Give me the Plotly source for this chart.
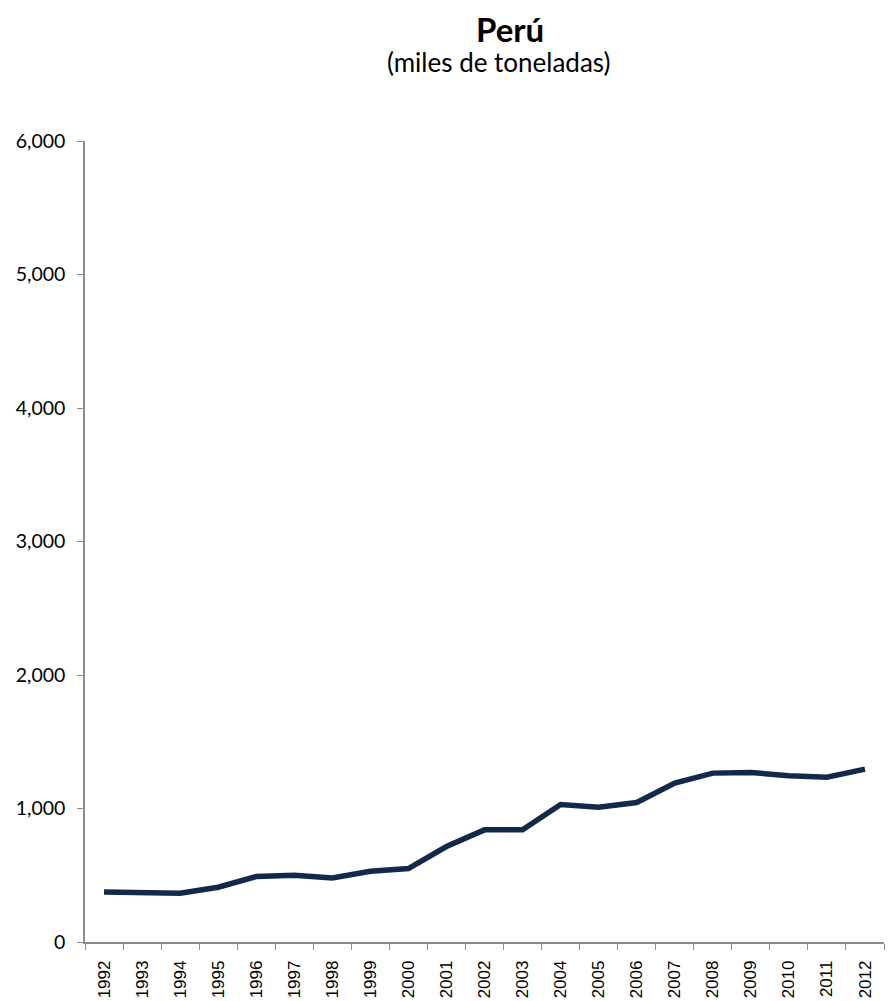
import plotly.graph_objects as go

years = [str(y) for y in range(1992, 2013)]
values = [375, 375, 365, 410, 490, 500, 480, 530, 550, 715, 840,
          840, 1030, 1010, 1045, 1190, 1265, 1270, 1245, 1235, 1295]
y_ticks = [0, 1000, 2000, 3000, 4000, 5000, 6000]
y_ticktext = ["0", "1,000", "2,000", "3,000", "4,000", "5,000", "6,000"]

fig = go.Figure()
fig.add_trace(go.Scatter(
    x=years, y=values, mode="lines",
    line=dict(color="#13294B", width=5.5),
    hoverinfo="x+y", showlegend=False,
))

font_family = "Lato, 'Open Sans', sans-serif"

fig.update_layout(
    width=895, height=1001,
    margin=dict(l=85, r=11, t=141, b=59),
    paper_bgcolor="white", plot_bgcolor="white",
    font=dict(family=font_family, color="black"),
    xaxis=dict(
        type="category", range=[-0.5, 20.5], automargin=False,
        tickson="boundaries", ticks="outside", ticklen=6,
        tickcolor="#8c8c8c", showline=True, linecolor="#8c8c8c", linewidth=1.5,
        showgrid=False, tickangle=-90,
        tickfont=dict(size=17, family="'Liberation Sans', Arial, sans-serif"),
        ticklabelstandoff=10,
    ),
    yaxis=dict(
        range=[0, 6000], tickvals=y_ticks, ticktext=y_ticktext, automargin=False,
        ticks="outside", ticklen=6, tickcolor="#8c8c8c",
        showline=True, linecolor="#8c8c8c", linewidth=1.5,
        showgrid=False, zeroline=False,
        tickfont=dict(size=19.5, family=font_family),
        ticklabelstandoff=8,
    ),
    annotations=[
        dict(text="<b>Perú</b>", x=0.532, y=30, xref="paper", yref="paper",
             showarrow=False, font=dict(size=33, family=font_family)),
        dict(text="(miles de toneladas)", x=0.517, y=62, xref="paper", yref="paper",
             showarrow=False, font=dict(size=26, family=font_family)),
    ],
)

plot_h = 1001 - 141 - 59
for ann, ypx in zip(fig.layout.annotations, [29, 62]):
    ann.y = (942 - ypx) / plot_h
    ann.yanchor = "middle"

fig.write_html("out.html", config={"displayModeBar": False})

# remove default browser body margin so the figure sits at the page origin
with open("out.html", "r", encoding="utf-8") as f:
    html = f.read()
html = html.replace("<body>", '<body style="margin:0;overflow:hidden">', 1)
with open("out.html", "w", encoding="utf-8") as f:
    f.write(html)
